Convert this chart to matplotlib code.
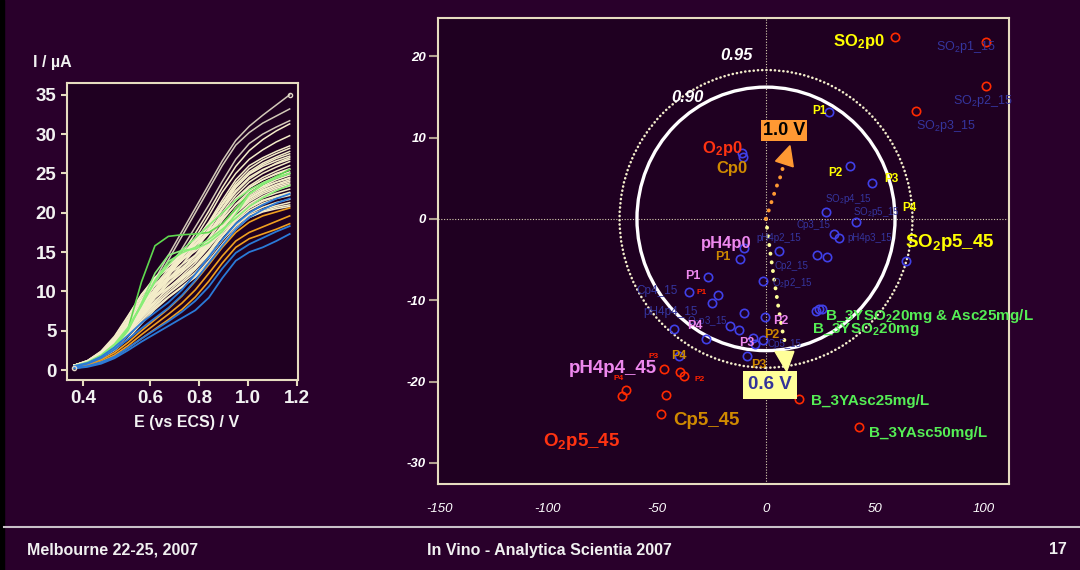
import matplotlib.pyplot as plt
from matplotlib.patches import Ellipse, Polygon, Rectangle
from matplotlib.lines import Line2D

plt.rcParams['font.family'] = ['Liberation Sans', 'DejaVu Sans']
plt.rcParams['mathtext.default'] = 'regular'
plt.rcParams['axes.unicode_minus'] = False

# ---------------- voltammograms (left panel) ----------------
potential = [0.29, 0.345, 0.40, 0.455, 0.51, 0.565, 0.62, 0.675, 0.73, 0.785,
             0.84, 0.895, 0.95, 1.005, 1.06, 1.115, 1.17]

wine_curves = [
    [0.3, 0.8, 1.7, 3.1, 5.2, 8.2, 11.5, 14.6, 17.6, 20.6, 23.6, 26.6, 29.2, 31.0, 32.4, 33.7, 35.0],
    [0.5, 0.9, 1.7, 3.0, 5.0, 7.8, 11.0, 14.0, 17.0, 20.0, 23.0, 26.0, 28.6, 30.2, 31.4, 32.3, 33.2],
    [0.5, 0.9, 1.6, 2.8, 4.6, 7.0, 9.8, 12.6, 15.4, 18.2, 21.0, 24.0, 26.8, 28.8, 30.0, 30.9, 31.7],
    [0.6, 1.0, 1.8, 3.1, 5.0, 7.4, 10.0, 12.4, 14.8, 17.4, 20.2, 23.2, 25.9, 27.9, 29.3, 30.4, 31.3],
    [0.5, 0.9, 1.7, 2.9, 4.7, 7.0, 9.5, 11.9, 14.3, 16.8, 19.6, 22.6, 25.0, 26.8, 28.0, 29.0, 29.8],
    [0.6, 1.0, 1.9, 3.3, 5.4, 7.9, 10.4, 12.5, 14.4, 16.4, 18.8, 21.6, 24.2, 26.0, 27.0, 27.8, 28.5],
    [0.5, 0.9, 1.8, 3.1, 5.0, 7.4, 9.8, 12.0, 14.0, 16.0, 18.4, 21.2, 23.8, 25.6, 26.7, 27.5, 28.2],
    [0.6, 1.1, 2.0, 3.5, 5.7, 8.3, 10.8, 12.8, 14.6, 16.5, 18.7, 21.2, 23.5, 25.2, 26.3, 27.1, 27.8],
    [0.5, 0.9, 1.7, 2.9, 4.6, 6.8, 9.2, 11.4, 13.4, 15.4, 17.8, 20.6, 23.2, 25.0, 26.1, 26.9, 27.5],
    [0.6, 1.0, 1.9, 3.3, 5.5, 8.0, 10.3, 12.2, 14.0, 15.8, 18.0, 20.4, 22.6, 24.3, 25.4, 26.3, 27.0],
    [0.5, 0.9, 1.8, 3.1, 5.1, 7.5, 9.7, 11.6, 13.4, 15.3, 17.5, 20.0, 22.2, 23.9, 25.0, 25.8, 26.5],
    [0.6, 1.1, 2.1, 3.7, 6.0, 8.6, 10.8, 12.4, 13.9, 15.5, 17.4, 19.6, 21.8, 23.4, 24.5, 25.3, 26.0],
    [0.5, 0.9, 1.7, 3.0, 4.8, 7.0, 9.2, 11.0, 12.8, 14.6, 16.8, 19.4, 21.6, 23.2, 24.2, 25.0, 25.6],
    [0.6, 1.0, 1.9, 3.3, 5.4, 7.7, 9.8, 11.4, 12.9, 14.6, 16.6, 19.0, 21.1, 22.7, 23.8, 24.6, 25.2],
    [0.5, 0.9, 1.8, 3.1, 5.0, 7.2, 9.2, 10.9, 12.4, 14.0, 16.0, 18.4, 20.6, 22.3, 23.4, 24.2, 24.8],
    [0.6, 1.1, 2.0, 3.6, 5.8, 8.2, 10.2, 11.7, 13.0, 14.5, 16.3, 18.5, 20.5, 22.1, 23.1, 23.9, 24.5],
    [0.5, 0.9, 1.7, 2.9, 4.6, 6.7, 8.7, 10.4, 12.0, 13.6, 15.6, 18.0, 20.2, 21.9, 22.9, 23.6, 24.2],
    [0.6, 1.0, 1.9, 3.3, 5.3, 7.4, 9.4, 11.0, 12.4, 13.9, 15.8, 18.0, 20.0, 21.6, 22.6, 23.3, 23.8],
    [0.5, 0.9, 1.8, 3.1, 4.9, 6.9, 8.8, 10.3, 11.7, 13.2, 15.1, 17.4, 19.5, 21.1, 22.1, 22.9, 23.4],
    [0.6, 1.1, 2.2, 3.8, 6.1, 8.4, 10.2, 11.5, 12.6, 13.9, 15.6, 17.6, 19.5, 20.9, 21.9, 22.5, 23.0],
    [0.5, 0.9, 1.7, 2.8, 4.4, 6.3, 8.1, 9.7, 11.2, 12.8, 14.8, 17.0, 19.1, 20.6, 21.5, 22.1, 22.6],
    [0.6, 1.0, 1.9, 3.3, 5.4, 7.5, 9.2, 10.5, 11.8, 13.2, 15.0, 17.0, 18.9, 20.3, 21.2, 21.8, 22.2],
    [0.5, 0.9, 1.8, 3.0, 4.7, 6.6, 8.3, 9.7, 11.0, 12.4, 14.3, 16.5, 18.5, 19.9, 20.7, 21.3, 21.7],
    [0.6, 1.1, 2.0, 3.5, 5.5, 7.6, 9.3, 10.5, 11.6, 12.9, 14.6, 16.5, 18.3, 19.7, 20.4, 20.9, 21.3],
    [0.5, 0.9, 1.7, 2.9, 4.5, 6.3, 7.9, 9.3, 10.6, 12.0, 13.9, 16.0, 18.0, 19.4, 20.1, 20.5, 20.8],
    [0.6, 1.2, 2.3, 4.0, 6.4, 8.8, 10.8, 12.2, 13.4, 14.6, 16.0, 17.7, 19.3, 20.6, 21.5, 22.0, 22.4],
    [0.6, 1.2, 2.3, 4.0, 6.5, 9.3, 11.7, 13.3, 14.6, 15.9, 17.4, 19.2, 21.0, 22.4, 23.3, 23.9, 24.4],
    [0.6, 1.1, 2.3, 4.2, 6.8, 9.6, 11.8, 13.3, 14.6, 16.0, 17.6, 19.6, 21.6, 23.2, 24.2, 24.9, 25.5],
    [0.5, 0.8, 1.5, 2.5, 4.0, 5.9, 7.7, 9.2, 10.5, 11.8, 13.6, 15.8, 17.9, 19.4, 20.2, 20.7, 21.0],
    [0.5, 0.9, 1.8, 3.1, 4.9, 6.8, 8.5, 10.0, 11.5, 13.0, 14.9, 17.1, 19.2, 20.7, 21.6, 22.1, 22.5],
    [0.6, 1.1, 2.2, 3.9, 6.3, 9.0, 11.4, 13.2, 14.8, 16.4, 18.3, 20.6, 22.8, 24.5, 25.5, 26.2, 26.8],
    [0.6, 1.2, 2.4, 4.3, 6.9, 9.6, 11.6, 12.9, 14.0, 15.1, 16.5, 18.2, 19.9, 21.4, 22.4, 23.1, 23.6],
    [0.5, 1.0, 1.9, 3.3, 5.3, 7.8, 10.2, 12.3, 14.3, 16.3, 18.6, 21.0, 23.3, 24.9, 25.9, 26.6, 27.2],
    [0.6, 1.1, 2.1, 3.7, 5.9, 8.2, 10.1, 11.5, 12.8, 14.2, 16.0, 18.2, 20.2, 21.8, 22.8, 23.5, 24.0],
]

green_curves = [
    [0.3, 0.7, 1.5, 2.8, 5.2, 11.2, 15.8, 17.0, 17.2, 17.3, 17.5, 18.6, 20.5, 22.4, 23.6, 24.6, 25.5],
    [0.4, 0.8, 1.6, 2.9, 5.0, 8.5, 12.3, 14.6, 15.2, 15.4, 16.2, 17.6, 19.8, 22.4, 23.6, 24.4, 25.0],
    [0.4, 0.9, 1.8, 3.2, 5.2, 8.2, 11.4, 13.8, 14.9, 15.6, 16.6, 17.9, 19.3, 20.8, 21.9, 22.8, 23.5],
    [0.5, 1.0, 1.9, 3.3, 5.4, 8.3, 11.2, 13.4, 15.2, 16.8, 18.4, 20.0, 21.6, 22.9, 23.8, 24.5, 25.0],
]

blue_curves = [
    [0.5, 0.9, 1.7, 2.9, 4.4, 6.0, 7.3, 8.6, 10.2, 12.2, 14.4, 16.6, 18.6, 20.0, 21.0, 21.8, 22.4],
    [0.4, 0.8, 1.5, 2.6, 3.9, 5.3, 6.6, 7.9, 9.5, 11.4, 13.6, 15.8, 17.9, 19.4, 20.4, 21.2, 21.8],
    [0.3, 0.5, 1.0, 1.7, 2.8, 4.0, 5.1, 6.2, 7.4, 8.8, 10.6, 12.9, 14.9, 16.0, 16.8, 17.6, 18.3],
    [0.2, 0.4, 0.8, 1.5, 2.5, 3.6, 4.6, 5.6, 6.6, 7.6, 9.2, 11.7, 13.9, 15.0, 15.6, 16.4, 17.3],
]

orange_curves = [
    [0.3, 0.6, 1.1, 1.9, 3.1, 4.5, 5.8, 7.1, 8.5, 10.2, 12.3, 14.5, 16.4, 17.5, 18.2, 18.9, 19.6],
    [0.2, 0.5, 0.9, 1.7, 2.8, 4.0, 5.2, 6.4, 7.7, 9.3, 11.3, 13.6, 15.6, 16.7, 17.3, 17.9, 18.6],
    [0.4, 0.7, 1.3, 2.2, 3.5, 5.0, 6.4, 7.8, 9.4, 11.3, 13.4, 15.6, 17.5, 18.8, 19.6, 20.1, 20.6],
]

e_ticks = [0.327, 0.6, 0.8, 1.0, 1.2]
e_tick_labels = ['0.4', '0.6', '0.8', '1.0', '1.2']
i_ticks = [0, 5, 10, 15, 20, 25, 30, 35]

# ---------------- PCA scores (right panel) ----------------
blue_x = [-11.0, -10.6, -10.1, -11.9, 6.0, 23.4, 28.0, 28.9, 38.5, 48.6, 27.5, 41.3,
          31.2, 33.5, 64.2, -1.4, -26.6, -35.3, -22.0, -24.8, -10.1, -0.5, 22.9, 24.3,
          25.7, -42.2, -16.5, -12.4, -27.5, -6.0, -5.0, -1.4, -8.7, -39.9]
blue_y = [8.1, 7.6, -3.6, -4.9, -3.9, -4.5, -4.7, 13.2, 6.5, 4.4, 0.9, -0.4,
          -1.8, -2.4, -5.2, -7.7, -7.2, -9.0, -9.4, -10.4, -11.6, -12.1, -11.3, -11.1,
          -11.1, -13.5, -13.2, -13.7, -14.8, -14.7, -15.4, -14.9, -16.9, -16.9]

red_x = [59.2, 100.9, 100.9, 68.8, -46.8, -39.4, -37.6, -64.2, -66.1, -45.9, -48.2, 15.1, 42.7]
red_y = [22.4, 21.7, 16.4, 13.3, -18.4, -18.8, -19.3, -21.1, -21.8, -21.7, -24.0, -22.1, -25.6]

score_xticks = [-150, -100, -50, 0, 50, 100]
score_yticks = [-30, -20, -10, 0, 10, 20]

# confidence limits: (level, x radius, y radius)
limits = [('0.90', 59.2, 16.2), ('0.95', 67.2, 18.3)]

sample_labels = {
    'SO$_2$p0': ((30.7, 21.8), '#ffff00', 12),
    'SO$_2$p5_45': ((63.8, -2.9), '#ffff00', 13.5),
    'O$_2$p0': ((-29.4, 8.7), '#ff3311', 12),
    'Cp0': ((-22.9, 6.2), '#d08a00', 12),
    'pH4p0': ((-29.8, -3.0), '#ee88ee', 12),
    'pH4p4_45': ((-90.4, -18.4), '#ee88ee', 13.5),
    'Cp5_45': ((-42.7, -24.8), '#d08a00', 13.5),
    'O$_2$p5_45': ((-102.3, -27.4), '#ff3311', 13.5),
    'B_3YSO$_2$20mg & Asc25mg/L': ((27.1, -11.9), '#55ee55', 11),
    'B_3YSO$_2$20mg': ((21.1, -13.6), '#55ee55', 11),
    'B_3YAsc25mg/L': ((20.6, -22.4), '#55ee55', 11),
    'B_3YAsc50mg/L': ((47.2, -26.3), '#55ee55', 11),
}

storage_labels = [
    ('SO$_2$p1_15', 78.0, 21.1, 9), ('SO$_2$p2_15', 85.8, 14.5, 9),
    ('SO$_2$p3_15', 68.8, 11.4, 9), ('SO$_2$p4_15', 27.1, 2.5, 7),
    ('SO$_2$p5_15', 39.9, 0.9, 7), ('Cp3_15', 14.2, -0.8, 7),
    ('pH4p3_15', 37.2, -2.3, 7), ('pH4p2_15', -4.6, -2.4, 7),
    ('Cp2_15', 4.1, -5.8, 7), ('O$_2$p2_15', 2.8, -7.9, 7),
    ('Cp4_15', -59.6, -8.9, 8.5), ('pH4p4_15', -56.4, -11.4, 8.5),
    ('O$_2$p3_15', -36.2, -12.5, 7), ('Cp5_15', 0.5, -15.4, 7),
]

step_labels = [
    # text, x, y, colour, size
    ('P1', -37.2, -7.0, '#ee88ee', 9), ('P4', -36.2, -13.2, '#ee88ee', 9),
    ('P3', -12.4, -15.3, '#ee88ee', 9), ('P2', 3.2, -12.5, '#ee88ee', 9),
    ('P1', -23.4, -4.7, '#cc8800', 9), ('P2', -0.9, -14.3, '#cc8800', 9),
    ('P3', -6.9, -18.0, '#cc8800', 9), ('P4', -43.6, -16.9, '#cc8800', 9),
    ('P1', 21.1, 13.3, '#ffff00', 8.5), ('P2', 28.4, 5.7, '#ffff00', 8.5),
    ('P3', 54.1, 4.9, '#ffff00', 8.5), ('P4', 62.4, 1.3, '#ffff00', 8.5),
    ('P1', -31.7, -9.0, '#ff2200', 6), ('P3', -54.1, -16.9, '#ff2200', 6),
    ('P4', -70.2, -19.6, '#ff2200', 6), ('P2', -33.0, -19.7, '#ff2200', 6),
]

slide_bg = '#29002b'
plot_bg = '#1f0021'
frame = '#e6dcc0'

fig = plt.figure(figsize=(10.8, 5.7), dpi=100)
fig.patch.set_facecolor(slide_bg)
fig.add_artist(Rectangle((0, 0), 4 / 1080, 1, transform=fig.transFigure,
                         color='black', zorder=0))

# ---- left: voltammograms ----
ax1 = fig.add_axes([67 / 1080, 1 - 380 / 570, 231 / 1080, 297 / 570])
ax1.set_facecolor(plot_bg)
for k, cur in enumerate(wine_curves):
    col = '#d2c9b8' if k < 3 else '#f4edc9'
    ax1.plot(potential, cur, color=col, lw=1.1, zorder=2)
ax1.plot([potential[0], potential[-1]], [wine_curves[0][0], wine_curves[0][-1]],
         'o', ms=3, mfc='none', mec='#e0d8c8', mew=1, zorder=5)
for k, cur in enumerate(green_curves):
    ax1.plot(potential, cur, color='#5fd84f' if k == 0 else '#88ee77', lw=1.2, zorder=3)
for cur in orange_curves:
    ax1.plot(potential, cur, color='#f0a020', lw=1.2, zorder=3)
for cur in blue_curves:
    ax1.plot(potential, cur, color='#2a7ad8', lw=1.3, zorder=4)

ax1.set_xlim(0.261, 1.204)
ax1.set_ylim(-1.27, 36.5)
ax1.set_xticks(e_ticks)
ax1.set_xticklabels(e_tick_labels)
ax1.set_yticks(i_ticks)
for sp in ax1.spines.values():
    sp.set_color(frame)
    sp.set_linewidth(1.5)
ax1.tick_params(colors=frame, length=4, width=1.5, labelcolor='#f2f2f2',
                labelsize=13.5)
for lab in ax1.get_xticklabels() + ax1.get_yticklabels():
    lab.set_fontweight('bold')
fig.text(33 / 1080, 1 - 63 / 570, 'I / µA', color='#f2f2f2', fontsize=11.5,
         fontweight='bold', va='center', ha='left')
fig.text(187 / 1080, 1 - 423 / 570, 'E (vs ECS) / V', color='#f2f2f2',
         fontsize=11.5, fontweight='bold', va='center', ha='center')

# ---- right: score plot ----
ax2 = fig.add_axes([438 / 1080, 1 - 484 / 570, 571 / 1080, 466 / 570])
ax2.set_facecolor(plot_bg)
ax2.set_xlim(-150.5, 111.5)
ax2.set_ylim(-32.6, 24.7)

ax2.axhline(0, color='#d8d0b0', lw=0.8, ls=(0, (1, 1.5)), zorder=1)
ax2.axvline(0, color='#d8d0b0', lw=0.8, ls=(0, (1, 1.5)), zorder=1)

for level, rx, ry in limits:
    if level == '0.90':
        ax2.add_patch(Ellipse((0, 0), 2 * rx, 2 * ry, fill=False, ec='white',
                              lw=2.4, zorder=3))
        ax2.text(-43.6, 14.9, level, color='white', fontsize=12, fontweight='bold',
                 style='italic', ha='left', va='center', zorder=6)
    else:
        ax2.add_patch(Ellipse((0, 0), 2 * rx, 2 * ry, fill=False, ec='#f4eecc',
                              lw=1.8, ls=(0, (0.1, 1.6)), capstyle='round', zorder=3))
        ax2.text(-21.1, 20.1, level, color='white', fontsize=12, fontweight='bold',
                 style='italic', ha='left', va='center', zorder=6)

# loadings arrows for the two potentials
up_path = [(0, 0), (2.3, 1.9), (4.6, 3.8), (7.2, 5.6), (7.9, 6.6)]
down_path = [(0, 0), (0.8, -1.8), (2.3, -4.8), (4.0, -7.9), (5.6, -10.7),
             (7.5, -13.7), (8.9, -15.5)]
ax2.plot(*zip(*down_path), color='#ffff99', lw=2.8, ls=(0, (0.05, 2.2)),
         solid_capstyle='round', dash_capstyle='round', zorder=4)
ax2.plot(*zip(*up_path), color='#ff9933', lw=2.8, ls=(0, (0.05, 2.2)),
         solid_capstyle='round', dash_capstyle='round', zorder=4)
ax2.add_patch(Polygon([(4.1, -16.3), (12.8, -16.3), (9.5, -18.75)],
                      closed=True, color='#ffff99', zorder=5))
ax2.add_patch(Polygon([(4.4, 7.1), (12.5, 6.4), (11.0, 9.0)],
                      closed=True, color='#ff9933', zorder=5))
ax2.text(8.3, 10.9, '1.0 V', color='black', fontsize=13, fontweight='bold',
         ha='center', va='center', zorder=7,
         bbox=dict(boxstyle='square,pad=0.12', fc='#ff9933', ec='none'))
ax2.text(1.8, -20.4, '0.6 V', color='#333399', fontsize=13.5, fontweight='bold',
         ha='center', va='center', zorder=7,
         bbox=dict(boxstyle='square,pad=0.28', fc='#ffff99', ec='none'))

ax2.plot(blue_x, blue_y, 'o', ms=6, mfc='none', mec='#4040e8', mew=1.2, zorder=5)
ax2.plot(red_x, red_y, 'o', ms=6, mfc='none', mec='#ff2a00', mew=1.2, zorder=5)

for text, (xy, col, size) in sample_labels.items():
    ax2.text(xy[0], xy[1], text, color=col, fontsize=size, fontweight='bold',
             ha='left', va='center', zorder=6)
for text, x, y, size in storage_labels:
    ax2.text(x, y, text, color='#35359e', fontsize=size, ha='left', va='center',
             zorder=6)
for text, x, y, col, size in step_labels:
    ax2.text(x, y, text, color=col, fontsize=size, fontweight='bold',
             ha='left', va='center', zorder=6)

ax2.set_xticks(score_xticks)
ax2.set_yticks(score_yticks)
for sp in ax2.spines.values():
    sp.set_color(frame)
    sp.set_linewidth(1.5)
ax2.tick_params(axis='y', colors='#b0a090', length=6.5, width=1.5,
                labelcolor='white', labelsize=9.5, pad=2)
ax2.tick_params(axis='x', length=0, labelcolor='white', labelsize=9.5, pad=14)
for lab in ax2.get_yticklabels():
    lab.set_fontweight('bold')
    lab.set_fontstyle('italic')
for lab in ax2.get_xticklabels():
    lab.set_fontstyle('italic')

# ---- footer ----
fig.add_artist(Line2D([4 / 1080, 1], [1 - 527 / 570] * 2, color='#c8c0c8', lw=1.5,
                      transform=fig.transFigure))
foot = dict(color='#f0f0f0', fontsize=11.5, fontweight='bold', va='center')
fig.text(27 / 1080, 1 - 550 / 570, 'Melbourne 22-25, 2007', ha='left', **foot)
fig.text(549 / 1080, 1 - 550 / 570, 'In Vino - Analytica Scientia 2007',
         ha='center', **foot)
fig.text(1067 / 1080, 1 - 550 / 570, '17', ha='right', **foot)

fig.savefig('out.png', dpi=100, facecolor=fig.get_facecolor())
